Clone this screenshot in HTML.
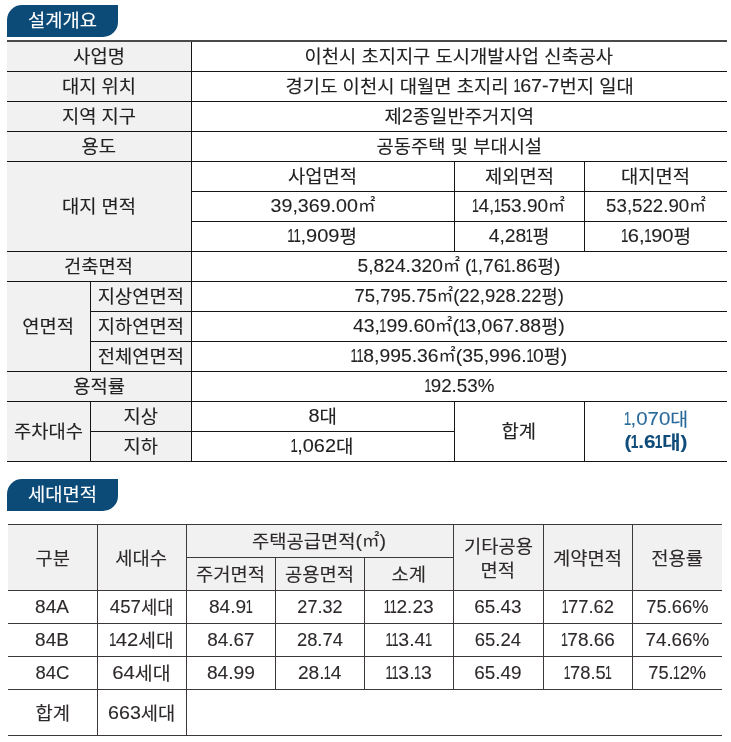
<!DOCTYPE html>
<html lang="ko">
<head>
<meta charset="utf-8">
<title>설계개요</title>
<style>
html,body{margin:0;padding:0;background:#fff;}
body{width:731px;height:742px;position:relative;overflow:hidden;
  font-family:"Liberation Sans","Noto Sans CJK KR","NanumGothic",sans-serif;
  color:#222;font-size:18.2px;-webkit-text-stroke:0.12px currentColor;}
.n{font-size:19.1px;-webkit-text-stroke:0.1px currentColor;line-height:0;position:relative;top:-0.9px;}
span[id]{display:inline-block;}
.m{font-size:17px;line-height:0;position:relative;top:-1.6px;-webkit-text-stroke:0;}
.o{display:inline-block;transform:scaleX(.66);margin:0 -2.2px;}
.badge{position:absolute;left:7px;width:111px;height:32px;background:#0c4a78;color:#fff;
  border-radius:15px 0 15px 0;text-align:center;line-height:32.5px;}
#b1w{top:5px;}
#b2w{top:479px;}
table{position:absolute;border-collapse:collapse;table-layout:fixed;}
td,th{padding:2px 0 0 0;margin:0;text-align:center;vertical-align:middle;font-weight:normal;
  border:1px solid #151515;line-height:20px;white-space:nowrap;overflow:hidden;}
th{background:#f1f1f1;}
#t1{left:7px;top:40px;width:720px;border-top:2px solid #4a4a4a;}
#t1 tr{height:30px;}
#t1 th:first-child{border-left:0;}
#t1 td:last-child{border-right:0;}
#t1 td.tot{line-height:23px;padding-top:1px;}
#t2{left:8px;top:524px;width:714px;color:#2e2a2a;}
#t2 td,#t2 th{border-color:#3d3938;}
#t2 th.two{line-height:24px;padding-top:3px;}
#t2 th:first-child,#t2 td:first-child{border-left:0;}
#t2 th:last-child,#t2 td:last-child{border-right:0;}
.blue{color:#2a6a9a;}
.bblue{color:#0f4c7a;font-weight:bold;}
</style>
</head>
<body>
<div class="badge" id="b1w"><span id="b1" style="transform:scaleX(1.03)">설계개요</span></div>
<table id="t1">
<colgroup><col style="width:83px"><col style="width:101px"><col style="width:263px"><col style="width:130px"><col style="width:143px"></colgroup>
<tr><th colspan="2"><span id="a1" style="transform:scaleX(1.03)">사업명</span></th><td colspan="3"><span id="v1" style="transform:scaleX(1.03)">이천시 초지지구 도시개발사업 신축공사</span></td></tr>
<tr><th colspan="2"><span id="a2" style="transform:scaleX(1.03)">대지 위치</span></th><td colspan="3"><span id="v2" style="transform:scaleX(1.032)">경기도 이천시 대월면 초지리 <span class="n"><span class="o">1</span>67-7</span>번지 일대</span></td></tr>
<tr><th colspan="2"><span id="a3" style="transform:scaleX(1.03)">지역 지구</span></th><td colspan="3"><span id="v3" style="transform:scaleX(1.036)">제<span class="n">2</span>종일반주거지역</span></td></tr>
<tr><th colspan="2"><span id="a4" style="transform:scaleX(1.03)">용도</span></th><td colspan="3"><span id="v4" style="transform:scaleX(1.03)">공동주택 및 부대시설</span></td></tr>
<tr><th colspan="2" rowspan="3"><span id="a5" style="transform:scaleX(1.03)">대지 면적</span></th><td><span id="h1" style="transform:scaleX(1.03)">사업면적</span></td><td><span id="h2" style="transform:scaleX(1.03)">제외면적</span></td><td><span id="h3" style="transform:scaleX(1.03)">대지면적</span></td></tr>
<tr><td><span id="n1" style="transform:scaleX(1.028)"><span class="n">39,369.00</span><span class="m">㎡</span></span></td><td><span id="n2" style="transform:scaleX(0.996)"><span class="n"><span class="o">1</span>4,<span class="o">1</span>53.90</span><span class="m">㎡</span></span></td><td><span id="n3" style="transform:scaleX(0.978)"><span class="n">53,522.90</span><span class="m">㎡</span></span></td></tr>
<tr><td><span id="p1" style="transform:scaleX(1.048)"><span class="n"><span class="o">1</span><span class="o">1</span>,909</span>평</span></td><td><span id="p2" style="transform:scaleX(1.01)"><span class="n">4,28<span class="o">1</span></span>평</span></td><td><span id="p3" style="transform:scaleX(1.054)"><span class="n"><span class="o">1</span>6,<span class="o">1</span>90</span>평</span></td></tr>
<tr><th colspan="2"><span id="a8" style="transform:scaleX(1.03)">건축면적</span></th><td colspan="3"><span id="v8" style="transform:scaleX(1.004)"><span class="n">5,824.320</span><span class="m">㎡</span> <span class="n">(<span class="o">1</span>,76<span class="o">1</span>.86</span>평<span class="n">)</span></span></td></tr>
<tr><th rowspan="3"><span id="a9" style="transform:scaleX(1.03)">연면적</span></th><th><span id="s1" style="transform:scaleX(1.03)">지상연면적</span></th><td colspan="3"><span id="v9" style="transform:scaleX(0.967)"><span class="n">75,795.75</span><span class="m">㎡</span><span class="n">(22,928.22</span>평<span class="n">)</span></span></td></tr>
<tr><th><span id="s2" style="transform:scaleX(1.03)">지하연면적</span></th><td colspan="3"><span id="v10" style="transform:scaleX(1.02)"><span class="n">43,<span class="o">1</span>99.60</span><span class="m">㎡</span><span class="n">(<span class="o">1</span>3,067.88</span>평<span class="n">)</span></span></td></tr>
<tr><th><span id="s3" style="transform:scaleX(1.03)">전체연면적</span></th><td colspan="3"><span id="v11" style="transform:scaleX(1.012)"><span class="n"><span class="o">1</span><span class="o">1</span>8,995.36</span><span class="m">㎡</span><span class="n">(35,996.<span class="o">1</span>0</span>평<span class="n">)</span></span></td></tr>
<tr><th colspan="2"><span id="a12" style="transform:scaleX(1.03)">용적률</span></th><td colspan="3"><span id="v12" style="transform:scaleX(0.983)"><span class="n"><span class="o">1</span>92.53%</span></span></td></tr>
<tr><th rowspan="2"><span id="a13" style="transform:scaleX(1.03)">주차대수</span></th><th><span id="g1" style="transform:scaleX(1.03)">지상</span></th><td><span id="c1" style="transform:scaleX(1.042)"><span class="n">8</span>대</span></td><td rowspan="2"><span id="sum" style="transform:scaleX(1.03)">합계</span></td><td rowspan="2" class="tot"><span id="t1a" class="blue" style="transform:scaleX(1.071)"><span class="n"><span class="o">1</span>,070</span>대</span><br><span id="t1b" class="bblue" style="transform:scaleX(1.089)"><span class="n">(<span class="o">1</span>.6<span class="o">1</span></span>대<span class="n">)</span></span></td></tr>
<tr><th><span id="g2" style="transform:scaleX(1.03)">지하</span></th><td><span id="c2" style="transform:scaleX(1.042)"><span class="n"><span class="o">1</span>,062</span>대</span></td></tr>
</table>
<div class="badge" id="b2w"><span id="b2" style="transform:scaleX(1.03)">세대면적</span></div>
<table id="t2">
<colgroup><col style="width:89px"><col style="width:89px"><col style="width:89px"><col style="width:89px"><col style="width:89px"><col style="width:90px"><col style="width:89px"><col style="width:90px"></colgroup>
<tr style="height:33px"><th rowspan="2"><span id="k1" style="transform:scaleX(1.03)">구분</span></th><th rowspan="2"><span id="k2" style="transform:scaleX(1.03)">세대수</span></th><th colspan="3"><span id="k3" style="transform:scaleX(1.03)">주택공급면적<span class="n">(</span><span class="m">㎡</span><span class="n">)</span></span></th><th rowspan="2" class="two"><span id="k4a" style="transform:scaleX(1.03)">기타공용</span><br><span id="k4b" style="transform:scaleX(1.03)">면적</span></th><th rowspan="2"><span id="k5" style="transform:scaleX(1.03)">계약면적</span></th><th rowspan="2"><span id="k6" style="transform:scaleX(1.03)">전용률</span></th></tr>
<tr style="height:33px"><th><span id="k7" style="transform:scaleX(1.03)">주거면적</span></th><th><span id="k8" style="transform:scaleX(1.03)">공용면적</span></th><th><span id="k9" style="transform:scaleX(1.03)">소계</span></th></tr>
<tr style="height:33px"><td><span id="r1c1" style="transform:scaleX(0.994)"><span class="n">84A</span></span></td><td><span id="r1c2" style="transform:scaleX(0.977)"><span class="n">457</span>세대</span></td><td><span id="r1c3" style="transform:scaleX(1.002)"><span class="n">84.9<span class="o">1</span></span></span></td><td><span id="r1c4" style="transform:scaleX(0.943)"><span class="n">27.32</span></span></td><td><span id="r1c5" style="transform:scaleX(1.002)"><span class="n"><span class="o">1</span><span class="o">1</span>2.23</span></span></td><td><span id="r1c6" style="transform:scaleX(0.989)"><span class="n">65.43</span></span></td><td><span id="r1c7" style="transform:scaleX(0.965)"><span class="n"><span class="o">1</span>77.62</span></span></td><td><span id="r1c8" style="transform:scaleX(0.96)"><span class="n">75.66%</span></span></td></tr>
<tr style="height:33px"><td><span id="r2c1" style="transform:scaleX(0.994)"><span class="n">84B</span></span></td><td><span id="r2c2" style="transform:scaleX(1.059)"><span class="n"><span class="o">1</span>42</span>세대</span></td><td><span id="r2c3" style="transform:scaleX(0.989)"><span class="n">84.67</span></span></td><td><span id="r2c4" style="transform:scaleX(0.96)"><span class="n">28.74</span></span></td><td><span id="r2c5" style="transform:scaleX(1.018)"><span class="n"><span class="o">1</span><span class="o">1</span>3.4<span class="o">1</span></span></span></td><td><span id="r2c6" style="transform:scaleX(0.968)"><span class="n">65.24</span></span></td><td><span id="r2c7" style="transform:scaleX(0.996)"><span class="n"><span class="o">1</span>78.66</span></span></td><td><span id="r2c8" style="transform:scaleX(0.986)"><span class="n">74.66%</span></span></td></tr>
<tr style="height:33px"><td><span id="r3c1" style="transform:scaleX(0.965)"><span class="n">84C</span></span></td><td><span id="r3c2" style="transform:scaleX(1.067)"><span class="n">64</span>세대</span></td><td><span id="r3c3" style="transform:scaleX(1.002)"><span class="n">84.99</span></span></td><td><span id="r3c4" style="transform:scaleX(1.002)"><span class="n">28.<span class="o">1</span>4</span></span></td><td><span id="r3c5" style="transform:scaleX(1.018)"><span class="n"><span class="o">1</span><span class="o">1</span>3.<span class="o">1</span>3</span></span></td><td><span id="r3c6" style="transform:scaleX(0.989)"><span class="n">65.49</span></span></td><td><span id="r3c7" style="transform:scaleX(0.962)"><span class="n"><span class="o">1</span>78.5<span class="o">1</span></span></span></td><td><span id="r3c8" style="transform:scaleX(0.958)"><span class="n">75.<span class="o">1</span>2%</span></span></td></tr>
<tr style="height:46px"><td><span id="r4c1" style="transform:scaleX(1.03)">합계</span></td><td><span id="r4c2" style="transform:scaleX(1.028)"><span class="n">663</span>세대</span></td><td colspan="6"></td></tr>
</table>
</body>
</html>
